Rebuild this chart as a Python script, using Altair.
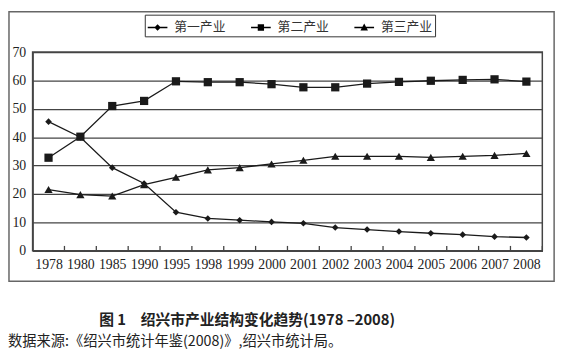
import altair as alt
import pandas as pd

years = ["1978", "1980", "1985", "1990", "1995", "1998", "1999", "2000",
         "2001", "2002", "2003", "2004", "2005", "2006", "2007", "2008"]
series = ["第一产业", "第二产业", "第三产业"]
primary = [45.5, 40.0, 29.3, 23.7, 13.6, 11.4, 10.8, 10.2, 9.7, 8.2, 7.5, 6.8, 6.2, 5.7, 5.0, 4.7]
secondary = [32.8, 40.2, 51.0, 52.8, 59.7, 59.4, 59.4, 58.7, 57.6, 57.6, 58.9, 59.5, 59.9, 60.2, 60.4, 59.6]
tertiary = [21.6, 19.8, 19.3, 23.3, 25.9, 28.5, 29.3, 30.6, 31.9, 33.3, 33.3, 33.3, 32.9, 33.3, 33.6, 34.3]
y_ticks = [0, 10, 20, 30, 40, 50, 60, 70]
caption_text = "图 1　绍兴市产业结构变化趋势(1978 –2008)"
source_text = "数据来源:《绍兴市统计年鉴(2008)》,绍兴市统计局。"

rows = []
for name, vals in zip(series, [primary, secondary, tertiary]):
    for y, v in zip(years, vals):
        rows.append({"year": y, "series": name, "value": v})
df = pd.DataFrame(rows)
year_df = pd.DataFrame({"year": years})

W, H = 518, 202
INK = "#1a1a1a"
GRID = "#444444"
SERIF = "Liberation Serif"
CJK = "Noto Sans CJK SC"

BAR = "M-1,-0.07L1,-0.07L1,0.07L-1,0.07Z"
legend_paths = [
    BAR + "M-0.33,0L0,-0.33L0.33,0L0,0.33Z",
    BAR + "M-0.32,-0.32L0.32,-0.32L0.32,0.32L-0.32,0.32Z",
    BAR + "M-0.38,0.3L0,-0.4L0.38,0.3Z",
]

base = alt.Chart(df)

x_axis = alt.Axis(title=None, labelAngle=0, labelFont=SERIF, labelFontSize=14,
                  labelColor="#222", tickSize=0, domainColor=GRID, domainWidth=1.5,
                  labelPadding=7, labelOverlap=False, grid=False)
y_axis = alt.Axis(title=None, values=y_ticks, labelFont=SERIF,
                  labelFontSize=14, labelColor="#222", tickSize=0, grid=True,
                  gridColor=GRID, gridWidth=1.3, gridOpacity=1, domainColor=GRID,
                  domainWidth=1.5, labelPadding=7, labelOverlap=False)
x_enc = alt.X("year:O", sort=years, scale=alt.Scale(type="point", padding=0.5), axis=x_axis)
y_enc = alt.Y("value:Q", scale=alt.Scale(domain=[0, 70]), axis=y_axis)

lines = base.mark_line(color=INK, strokeWidth=1.3).encode(
    x=x_enc, y=y_enc, detail="series:N"
)

shapes = ["diamond", "square", "triangle-up"]
sizes = [45, 70, 70]
point_layers = []
for name, shp, sz in zip(series, shapes, sizes):
    point_layers.append(
        base.transform_filter(alt.datum.series == name)
        .mark_point(shape=shp, filled=True, size=sz, color=INK, opacity=1)
        .encode(x=x_enc, y=y_enc)
    )

tick_layer = alt.Chart(year_df).mark_rule(
    color=GRID, strokeWidth=1.3, xOffset=W / 32
).encode(x=x_enc, y=alt.value(H), y2=alt.value(H - 5))

legend_layer = base.transform_filter("false").mark_point(
    filled=True, color="black", opacity=1
).encode(
    x=x_enc, y=y_enc,
    shape=alt.Shape(
        "series:N",
        scale=alt.Scale(domain=series, range=legend_paths),
        legend=alt.Legend(
            title=None, orient="none", legendX=114, legendY=-38,
            direction="horizontal", strokeColor="#333", padding=2,
            labelFont=CJK, labelFontSize=13, labelColor="#333",
            symbolSize=400, columnPadding=22, labelOffset=6,
            symbolFillColor="black", symbolOpacity=1,
        ),
    ),
)

frame = alt.Chart(pd.DataFrame({"a": [0]})).mark_rect(
    fill="white", fillOpacity=0, stroke="#666", strokeWidth=1.5
).encode(x=alt.value(-24), x2=alt.value(530), y=alt.value(-41), y2=alt.value(233))

caption = alt.Chart(pd.DataFrame({"t": [caption_text]})).mark_text(
    font=CJK, fontSize=15, fontWeight="bold", color="#222", align="center",
    baseline="middle"
).encode(x=alt.value(218), y=alt.value(272), text="t:N")

source = alt.Chart(pd.DataFrame({"t": [source_text]})).mark_text(
    font=CJK, fontSize=14.5, color="#222", align="left", baseline="middle"
).encode(x=alt.value(-25), y=alt.value(295), text="t:N")

chart = (
    alt.layer(frame, lines, *point_layers, tick_layer, legend_layer, caption, source)
    .properties(
        width=W, height=H,
        padding={"left": 25, "top": 42, "right": 20, "bottom": 100},
        autosize=alt.AutoSizeParams(type="none"),
        background="white",
    )
    .configure_view(stroke=GRID, strokeWidth=1.5)
)

chart.save("out.html", embed_options={"renderer": "svg", "actions": False})
